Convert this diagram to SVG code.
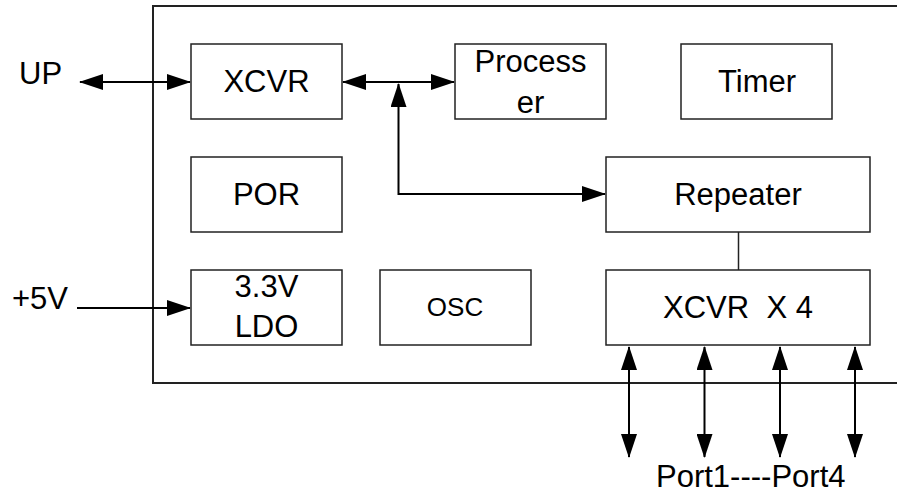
<svg xmlns="http://www.w3.org/2000/svg" width="897" height="493" viewBox="0 0 897 493">
<defs>
<marker id="ah" viewBox="0 0 24 16" markerWidth="24" markerHeight="16" refX="23" refY="8" markerUnits="userSpaceOnUse" orient="auto-start-reverse">
<path d="M0,0 L24,8 L0,16 Z" fill="#000"/>
</marker>
</defs>
<style>
.box{fill:#fff;stroke:#222;stroke-width:1.5}
.outer{fill:none;stroke:#222;stroke-width:2}
.t{font-family:"Liberation Sans",Arial,sans-serif;font-size:31px;fill:#000;text-anchor:middle}
.l{font-family:"Liberation Sans",Arial,sans-serif;font-size:31px;fill:#000}
.c{fill:none;stroke:#000;stroke-width:2}
</style>
<rect x="0" y="0" width="897" height="493" fill="#fff"/>
<path class="outer" d="M900,6 H153 V383 H900"/>
<g id="connectors">
<path class="c" d="M80,82 H190" marker-start="url(#ah)" marker-end="url(#ah)"/>
<path class="c" d="M343,82 H454" marker-start="url(#ah)" marker-end="url(#ah)"/>
<path class="c" d="M398.5,84 V194 H605" marker-start="url(#ah)" marker-end="url(#ah)"/>
<path class="c" d="M77,308 H190" marker-end="url(#ah)"/>
<path d="M738.5,232 V270" fill="none" stroke="#222" stroke-width="1.5"/>
<path class="c" d="M629,347 V457" marker-start="url(#ah)" marker-end="url(#ah)"/>
<path class="c" d="M704.5,347 V457" marker-start="url(#ah)" marker-end="url(#ah)"/>
<path class="c" d="M780,347 V457" marker-start="url(#ah)" marker-end="url(#ah)"/>
<path class="c" d="M855,347 V457" marker-start="url(#ah)" marker-end="url(#ah)"/>
</g>
<g id="xcvr"><rect class="box" x="191" y="44" width="151" height="75"/><text class="t" x="266.5" y="92">XCVR</text></g>
<g id="por"><rect class="box" x="191" y="157" width="151" height="75"/><text class="t" x="266.5" y="205">POR</text></g>
<g id="ldo"><rect class="box" x="191" y="270" width="151" height="75"/><text class="t" x="266.5" y="297">3.3V</text><text class="t" x="266.5" y="337">LDO</text></g>
<g id="osc"><rect class="box" x="380" y="270" width="151" height="75"/><text class="t" x="455" y="316" style="font-size:26px">OSC</text></g>
<g id="processer"><rect class="box" x="455" y="44" width="151" height="75"/><text class="t" x="530.5" y="72">Process</text><text class="t" x="530.5" y="113">er</text></g>
<g id="timer"><rect class="box" x="681" y="44" width="151" height="75"/><text class="t" x="757" y="92">Timer</text></g>
<g id="repeater"><rect class="box" x="606" y="157" width="264" height="75"/><text class="t" x="738" y="205">Repeater</text></g>
<g id="xcvr4"><rect class="box" x="606" y="270" width="264" height="75"/><text class="t" x="738" y="318" xml:space="preserve">XCVR  X 4</text></g>
<g id="labels">
<text class="l" x="19" y="84">UP</text>
<text class="l" x="12" y="309">+5V</text>
<text class="l" x="656" y="487">Port1----Port4</text>
</g>
</svg>
